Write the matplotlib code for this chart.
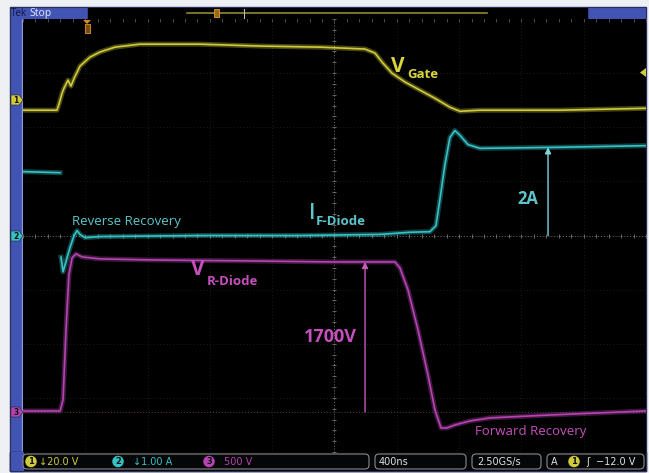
import numpy as np
import matplotlib.pyplot as plt
from matplotlib.patches import Rectangle, Polygon, FancyBboxPatch

# time in ns (trigger at 0), 400 ns/div
ch1_t = [-411, -193, -180, -160, -148, -135, -122, -103, -83, -45, 19, 83, 180, 340,
         725, 1111, 1496, 1785, 1849, 1900, 1958, 2042, 2138, 2234, 2330, 2395, 2523, 3037, 3589]
ch1_v = [-3.7, -3.7, -1.5, 2.6, 4.4, 5.9, 7.4, 5.2, 8.1, 12.6, 15.9, 17.8, 19.6, 20.7,
         20.7, 20.0, 19.6, 18.9, 17.4, 13.7, 10.0, 6.7, 3.7, 0.7, -2.6, -4.1, -3.7, -3.7, -3.0]

ch2_t = [-411, -173, -170, -167, -154, -135, -109, -83, -64, -45, -13, 83, 725, 1367,
         1881, 2074, 2202, 2240, 2266, 2298, 2330, 2362, 2395, 2446, 2523, 3037, 3589]
ch2_i = [1.18, 1.16, np.nan, -0.40, -0.67, -0.48, -0.22, 0.0, 0.09, 0.02, -0.04, -0.02, 0.0, 0.0,
         0.02, 0.06, 0.07, 0.18, 0.67, 1.31, 1.81, 1.94, 1.85, 1.68, 1.61, 1.63, 1.66]

ch3_t = [-411, -173, -154, -135, -116, -96, -71, -32, 83, 404, 1046, 1560, 1977, 2009,
         2061, 2125, 2189, 2234, 2273, 2311, 2362, 2459, 2587, 2972, 3589]
ch3_v = [9, 9, 111, 758, 1266, 1423, 1460, 1432, 1414, 1404, 1395, 1386, 1386, 1331,
         1127, 758, 342, 18, -148, -148, -120, -83, -55, -28, 9]

ch1_scale, ch1_offset = 20.0, 2.5     # V/div, div
ch2_scale, ch2_offset = 1.0, 0.0      # A/div
ch3_scale, ch3_offset = 500.0, -3.26  # V/div

arrow_2a_t, arrow_2a_i = 2960, 1.63
arrow_1700_t, arrow_1700_v = 1785, 1386

YEL, CYA, MAG = '#cfcb3a', '#35c3c6', '#b544b2'
YEL_T, CYA_T, MAG_T = '#d9d43c', '#5cc6cc', '#c650bb'
BLUE = '#4153b3'
FONT = ['Open Sans', 'DejaVu Sans']

W, H = 649, 473
fig = plt.figure(figsize=(W / 100, H / 100), dpi=100)
fig.patch.set_facecolor('#eef0f3')

bg = fig.add_axes([0, 0, 1, 1])
bg.set_xlim(0, W)
bg.set_ylim(H, 0)
bg.axis('off')

# scope frame
bg.add_patch(Rectangle((10, 7), 636, 464, color=BLUE, zorder=0))
bg.add_patch(Rectangle((10, 7), 636, 464, fill=False, ec='#2a2f55', lw=0.8, zorder=5))
bg.add_patch(Rectangle((21.5, 19), 1.5, 433, color='#8a98e0', zorder=1))
bg.add_patch(Rectangle((10, 452), 636, 19, color='#050608', zorder=1))
bg.add_patch(Rectangle((10, 452), 13, 19, color=BLUE, zorder=2))
bg.text(11, 13.5, 'Tek', color='#15183a', fontsize=7, va='center', family=FONT)
bg.text(29, 13.5, 'Stop', color='#e8ecff', fontsize=7.5, va='center', family=FONT)
bg.add_patch(Rectangle((88, 8), 499, 10.5, color='#000000', zorder=1))
bg.plot([187, 487], [13, 13], color='#8d8a30', lw=1.2, zorder=2)
bg.add_patch(Rectangle((214, 9), 5, 8, fc='#9a6a1a', ec='#e09a30', lw=0.6, zorder=3))
bg.plot([244, 244], [9, 18], color='#bbbbbb', lw=0.8, zorder=3)

# bottom readout boxes
for x0, x1 in [(23, 369), (375, 466), (472, 541), (547, 644)]:
    bg.add_patch(FancyBboxPatch((x0, 454), x1 - x0, 15, boxstyle='round,pad=0,rounding_size=4',
                                fc='#050608', ec='#8a8a8a', lw=0.8, zorder=3))
small = dict(fontsize=7, va='center', family=['DejaVu Sans'], zorder=5)
for x, num, col in [(31, '1', YEL), (118, '2', CYA), (209, '3', MAG), (574, '1', YEL)]:
    bg.text(x, 461.5, num, color='#111111', ha='center', fontweight='bold',
            bbox=dict(boxstyle='circle,pad=0.15', fc=col, ec='none'), **dict(small, fontsize=6))
bg.text(39, 461.5, '↓20.0 V', color=YEL, **small)
bg.text(133, 461.5, '↓1.00 A', color=CYA, **small)
bg.text(224, 461.5, '500 V', color=MAG, **small)
bg.text(379, 461.5, '400ns', color='#e0e0e0', **small)
bg.text(477, 461.5, '2.50GS/s', color='#e0e0e0', **small)
bg.text(551, 461.5, 'A', color='#e0e0e0', **small)
bg.text(586, 461.5, 'ʃ', color='#e0e0e0', **small)
bg.text(596, 461.5, '−12.0 V', color='#e0e0e0', **small)

# graticule
ax = fig.add_axes([23 / W, 1 - 452 / H, 623 / W, 433 / H])
ax.set_facecolor('black')
t_left, t_right = -411, 3589
ax.set_xlim(t_left, t_right)
ax.set_ylim(-4, 4)
ax.set_xticks([])
ax.set_yticks([])
for s in ax.spines.values():
    s.set_visible(False)

for k in range(1, 10):
    ax.axvline(t_left + k * 400, color='#262626', lw=0.6, ls=(0, (1, 3)), zorder=1)
for k in range(-3, 4):
    ax.axhline(k, color='#262626', lw=0.6, ls=(0, (1, 3)), zorder=1)
t_mid = (t_left + t_right) / 2
ax.axvline(t_mid, color='#6a6a6a', lw=0.7, ls=(0, (1, 2)), zorder=1)
ax.axhline(0, color='#6a6a6a', lw=0.7, ls=(0, (1, 2)), zorder=1)
ax.axhline(ch3_offset, color='#5a3a5a', lw=0.7, ls=(0, (1, 2)), zorder=1)
minor_t = np.arange(t_left, t_right + 1, 80)
minor_y = np.arange(-4, 4.01, 0.2)
ax.plot(minor_t, np.zeros_like(minor_t), '|', color='#777777', ms=3, mew=0.6, zorder=1)
ax.plot(np.full_like(minor_y, t_mid), minor_y, '_', color='#777777', ms=3, mew=0.6, zorder=1)
ax.plot(minor_t, np.full_like(minor_t, 4.0), '|', color='#555555', ms=4, mew=0.6, zorder=1)

traces = [
    (ch1_t, np.array(ch1_v) / ch1_scale + ch1_offset, YEL),
    (ch2_t, np.array(ch2_i) / ch2_scale + ch2_offset, CYA),
    (ch3_t, np.array(ch3_v) / ch3_scale + ch3_offset, MAG),
]
for t, y, col in traces:
    ax.plot(t, y, color=col, lw=3.6, alpha=0.35, solid_joinstyle='round', zorder=3)
    ax.plot(t, y, color=col, lw=1.2, solid_joinstyle='round', zorder=4)

# measurement arrows
ax.annotate('', xy=(arrow_2a_t, arrow_2a_i / ch2_scale + ch2_offset), xytext=(arrow_2a_t, ch2_offset),
            arrowprops=dict(arrowstyle='-|>', color='#7fd6dc', lw=1.0, mutation_scale=9,
                            shrinkA=0, shrinkB=0), zorder=5)
ax.annotate('', xy=(arrow_1700_t, arrow_1700_v / ch3_scale + ch3_offset), xytext=(arrow_1700_t, ch3_offset),
            arrowprops=dict(arrowstyle='-|>', color='#c65bbd', lw=1.0, mutation_scale=9,
                            shrinkA=0, shrinkB=0), zorder=5)

# overlay for markers and labels, drawn above the graticule
top = fig.add_axes([0, 0, 1, 1])
top.set_xlim(0, W)
top.set_ylim(H, 0)
top.axis('off')
top.patch.set_alpha(0)

for yc, num, col in [(100, '1', YEL), (236, '2', CYA), (412, '3', MAG)]:
    top.add_patch(Polygon([(11, yc - 5), (19, yc - 5), (23, yc), (19, yc + 5), (11, yc + 5)],
                          closed=True, fc=col, ec='#222222', lw=0.4, zorder=6))
    top.text(16, yc + 0.5, num, color='#111111', fontsize=5.5, ha='center', va='center',
             fontweight='bold', zorder=7)
top.add_patch(Polygon([(646, 68), (646, 77), (640, 72.5)], closed=True, fc=YEL, zorder=6))
top.add_patch(Polygon([(83, 20), (91, 20), (87, 24)], closed=True, fc='#e08a20', zorder=6))
top.add_patch(Rectangle((84.5, 24), 5, 9, fc='#7a4a10', ec='#e09a30', lw=0.6, zorder=6))

lab = dict(va='center', family=FONT, zorder=8)
top.text(391, 66, 'V', color=YEL_T, fontsize=15, fontweight='bold', **lab)
top.text(407, 74, 'Gate', color=YEL_T, fontsize=9.5, fontweight='bold', **lab)
top.text(309, 213, 'I', color=CYA_T, fontsize=15, fontweight='semibold', **lab)
top.text(316, 221, 'F-Diode', color=CYA_T, fontsize=9.5, fontweight='bold', **lab)
top.text(191, 269, 'V', color=MAG_T, fontsize=15, fontweight='bold', **lab)
top.text(207, 281, 'R-Diode', color=MAG_T, fontsize=9.5, fontweight='bold', **lab)
top.text(72, 221, 'Reverse Recovery', color=CYA_T, fontsize=9.5, **lab)
top.text(475, 431, 'Forward Recovery', color=MAG_T, fontsize=9.5, **lab)
top.text(528, 199, '2A', color=CYA_T, fontsize=12, fontweight='bold', ha='center', **lab)
top.text(330, 337, '1700V', color=MAG_T, fontsize=13, fontweight='bold', ha='center', **lab)

fig.savefig('out.png', dpi=100, facecolor=fig.get_facecolor())
plt.close(fig)
